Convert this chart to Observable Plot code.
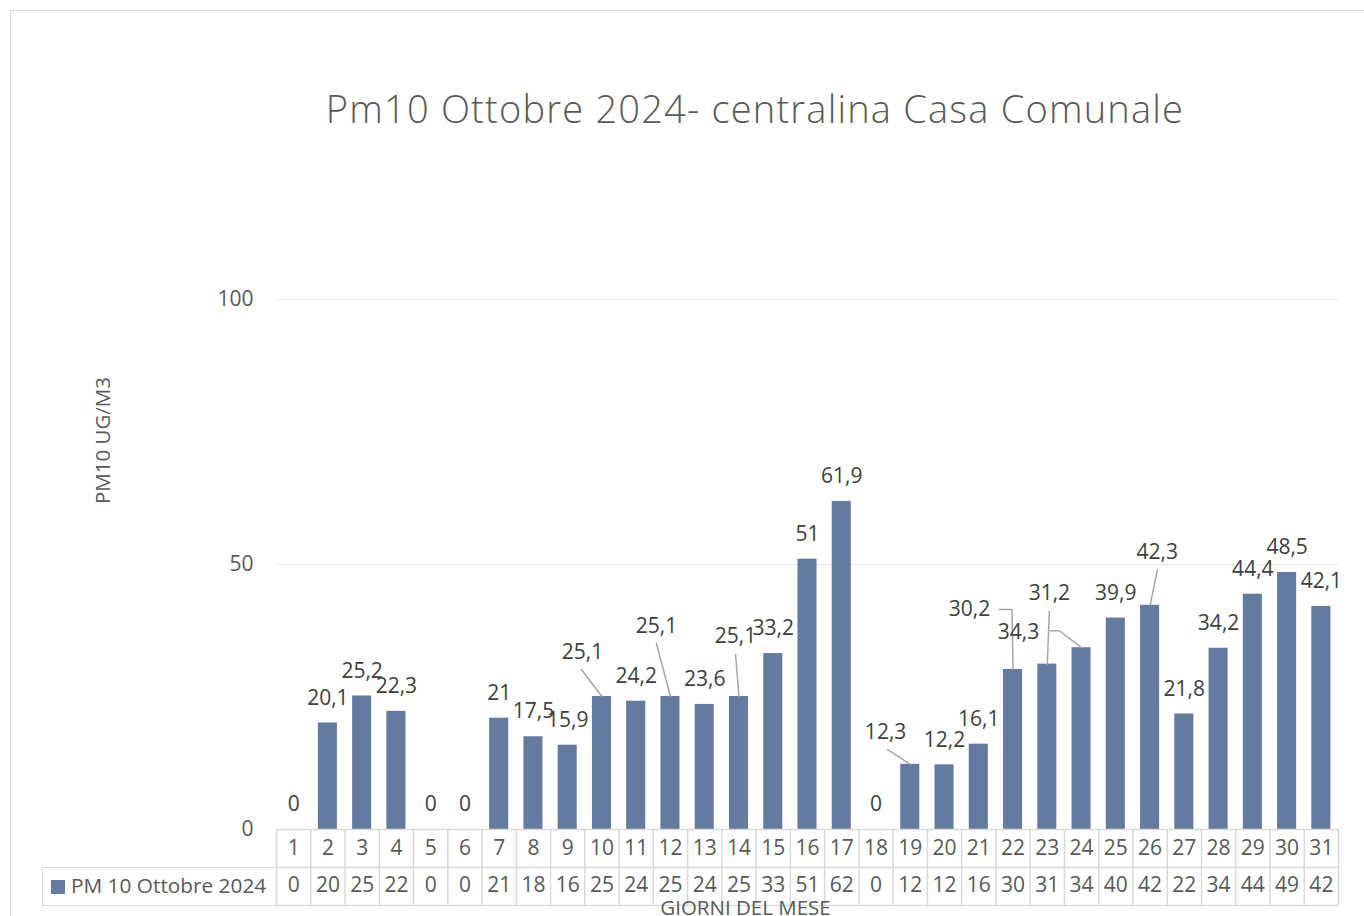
<!DOCTYPE html>
<html>
<head>
<meta charset="utf-8">
<script src="https://cdn.jsdelivr.net/npm/d3@7"></script>
<script src="https://cdn.jsdelivr.net/npm/@observablehq/plot@0.6"></script>
<style>
  body { margin: 0; background: #fff; font-family: "Open Sans", sans-serif; }
  #wrap { position: relative; width: 1364px; height: 916px; overflow: hidden; background: #fff; }
  #frame { position: absolute; left: 10px; top: 10px; width: 1500px; height: 1000px; border: 1px solid #d9d9d9; box-sizing: border-box; }
  #title { position: absolute; left: 755px; top: 80px; transform: translateX(-50%); white-space: nowrap;
           font-family: "Open Sans", sans-serif; font-weight: 300; font-size: 38px; letter-spacing: 1.2px; color: #595959; line-height: 56px; }
  #chart { position: absolute; left: 0; top: 0; }
  #legendCell { position: absolute; left: 42px; top: 867px; width: 235px; height: 39px; box-sizing: border-box;
                border: 1.5px solid #d9d9d9; border-right: none; display: flex; align-items: center; }
  #legendCell .sw { width: 14px; height: 14px; background: #657aa0; margin-left: 8px; margin-right: 6px; }
  #legendCell .tx { font-size: 20.8px; color: #595959; white-space: nowrap; margin-top: -3px; }
</style>
</head>
<body>
<div id="wrap">
  <div id="frame"></div>
  <div id="title"></div>
  <div id="chart"></div>
  <div id="legendCell"><div class="sw"></div><div class="tx"></div></div>
</div>
<script>
// ---- data ----
const chartTitle = "Pm10 Ottobre 2024- centralina Casa Comunale";
const seriesName = "PM 10 Ottobre 2024";
const yTitle = "PM10 UG/M3";
const xTitle = "GIORNI DEL MESE";
const days = [1,2,3,4,5,6,7,8,9,10,11,12,13,14,15,16,17,18,19,20,21,22,23,24,25,26,27,28,29,30,31];
const values = [0,20.1,25.2,22.3,0,0,21,17.5,15.9,25.1,24.2,25.1,23.6,25.1,33.2,51,61.9,0,12.3,12.2,16.1,30.2,31.2,34.3,39.9,42.3,21.8,34.2,44.4,48.5,42.1];
const tableValues = [0,20,25,22,0,0,21,18,16,25,24,25,24,25,33,51,62,0,12,12,16,30,31,34,40,42,22,34,44,49,42];
const yTicks = [0,50,100];

// ---- layout of the moved data labels (offsets in day / value units from the bar top) ----
const leaderLayout = [
  {day:10, lx:-0.57, ly:8.3,  path:[[-0.60,5.1],[0,0]]},
  {day:12, lx:-0.41, ly:13.2, path:[[-0.41,10.0],[0,0]]},
  {day:14, lx:-0.10, ly:11.3, path:[[-0.10,7.9],[0,0]]},
  {day:19, lx:-0.72, ly:6.0,  path:[[-0.67,2.8],[0,0]]},
  {day:22, lx:-1.27, ly:11.3, path:[[-0.40,11.3],[-0.03,11.3],[0,0]]},
  {day:23, lx:0.06,  ly:13.3, path:[[0.06,10.0],[0,0]]},
  {day:24, lx:-1.84, ly:2.9,  path:[[-0.91,3.2],[-0.65,3.2],[0,0]]},
  {day:26, lx:0.21,  ly:10.0, path:[[0.21,6.6],[0,0]]}
];

document.getElementById("title").textContent = chartTitle;
document.querySelector("#legendCell .tx").textContent = seriesName;

const fmt = v => String(v).replace(".", ",");
const data = days.map((d, i) => ({day: d, value: values[i], shown: tableValues[i]}));
const movedDays = new Set(leaderLayout.map(l => l.day));
const valueOf = d => values[days.indexOf(d)];
const movedLabels = leaderLayout.map(l => ({x: l.day + l.lx, y: valueOf(l.day) + l.ly, text: fmt(valueOf(l.day))}));
const leaderPts = leaderLayout.flatMap(l => l.path.map(([px, py]) => ({day: l.day, x: l.day + px, y: valueOf(l.day) + py})));
const boundaries = days.map(d => d - 0.5).concat([days[days.length - 1] + 0.5]);

const barColor = "#657aa0";
const chart = Plot.plot({
  width: 1364,
  height: 916,
  marginTop: 299,
  marginBottom: 87,
  marginLeft: 276,
  marginRight: 26,
  style: {fontFamily: "Open Sans, sans-serif", fontSize: "21px", color: "#595959", background: "transparent", overflow: "visible"},
  x: {type: "linear", domain: [0.5, 31.5], axis: null},
  y: {domain: [0, 100]},
  marks: [
    Plot.ruleY(yTicks.filter(t => t > 0), {stroke: "#ececec", strokeWidth: 1.5}),
    Plot.rectY(data, {x1: d => d.day - 0.5, x2: d => d.day + 0.5, y: "value", insetLeft: 7.6, insetRight: 7.6, fill: barColor}),
    Plot.axisY({ticks: yTicks, tickSize: 0, tickPadding: 23, fontSize: 21, fill: "#595959", label: null}),
    // table grid
    Plot.ruleY([0], {stroke: "#d9d9d9", strokeWidth: 1.5}),
    Plot.ruleY([0], {stroke: "#d9d9d9", strokeWidth: 1.5, dy: 38}),
    Plot.ruleY([0], {stroke: "#d9d9d9", strokeWidth: 1.5, dy: 76}),
    Plot.ruleX(boundaries, {x: d => d, stroke: "#d9d9d9", strokeWidth: 1.5, insetTop: 530, insetBottom: -76}),
    Plot.text(data, {x: "day", frameAnchor: "bottom", lineAnchor: "middle", text: d => String(d.day), dy: 19, fill: "#595959", fontSize: 21}),
    Plot.text(data, {x: "day", frameAnchor: "bottom", lineAnchor: "middle", text: d => String(d.shown), dy: 56, fill: "#595959", fontSize: 21}),
    // data labels
    Plot.text(data.filter(d => !movedDays.has(d.day)), {x: "day", y: "value", text: d => fmt(d.value), dy: -25, fill: "#404040", fontSize: 21}),
    Plot.line(leaderPts, {x: "x", y: "y", z: "day", stroke: "#a6a6a6", strokeWidth: 1.5}),
    Plot.text(movedLabels, {x: "x", y: "y", text: "text", fill: "#404040", fontSize: 21}),
    // axis titles
    Plot.text([yTitle], {frameAnchor: "left", textAnchor: "middle", lineAnchor: "middle", rotate: -90, dx: -173, dy: -124, fill: "#595959", fontSize: 20.5}),
    Plot.text([xTitle], {frameAnchor: "bottom", textAnchor: "middle", lineAnchor: "middle", dx: -62, dy: 79, fill: "#595959", fontSize: 20.5})
  ]
});
document.getElementById("chart").appendChild(chart);
</script>
</body>
</html>
